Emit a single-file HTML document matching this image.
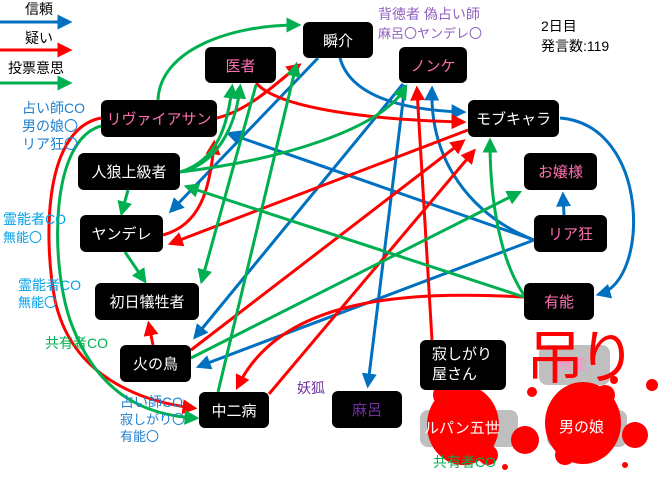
<!DOCTYPE html>
<html><head><meta charset="utf-8"><style>
body{margin:0;width:660px;height:477px;overflow:hidden;background:#fff;font-family:"Liberation Sans","Noto Sans CJK JP",sans-serif}
svg{position:absolute;left:0;top:0}
.t{position:absolute;white-space:nowrap;line-height:1}
</style></head><body>
<svg width="660" height="477" viewBox="0 0 660 477">
<defs>
<marker id="b" markerWidth="5" markerHeight="5" refX="3.5" refY="2.5" orient="auto" markerUnits="strokeWidth"><path d="M0,0L5,2.5L0,5z" fill="#0070c0"/></marker>
<marker id="r" markerWidth="5" markerHeight="5" refX="3.5" refY="2.5" orient="auto" markerUnits="strokeWidth"><path d="M0,0L5,2.5L0,5z" fill="#ff0000"/></marker>
<marker id="g" markerWidth="5" markerHeight="5" refX="3.5" refY="2.5" orient="auto" markerUnits="strokeWidth"><path d="M0,0L5,2.5L0,5z" fill="#00b050"/></marker>
</defs>
<g fill="none" stroke-width="3">
<line x1="0" y1="22" x2="68" y2="22" stroke="#0070c0" marker-end="url(#b)"/>
<line x1="0" y1="50" x2="68" y2="50" stroke="#f00" marker-end="url(#r)"/>
<line x1="0" y1="83" x2="68" y2="83" stroke="#00b050" marker-end="url(#g)"/>
<g stroke="#0070c0" marker-end="url(#b)">
<path d="M340,58 C350,95 400,110 462,112"/>
<path d="M318,58 L172,210"/>
<path d="M534,240 L230,134"/>
<path d="M534,240 L200,366"/>
<path d="M534,240 C470,215 430,160 432,90"/>
<path d="M564,215 L563,196"/>
<path d="M560,118 C650,125 650,280 600,294"/>
<path d="M403,84 L196,336"/>
<path d="M405,85 L368,384"/>
</g>
<g stroke="#f00" marker-end="url(#r)">
<path d="M217,118 C250,110 280,80 298,66"/>
<path d="M256,83 C280,110 380,120 462,122"/>
<path d="M101,118 C40,130 45,250 55,300 C70,370 130,400 193,408"/>
<path d="M163,235 C200,225 210,190 214,144"/>
<path d="M468,130 L172,243"/>
<path d="M191,350 L462,142"/>
<path d="M269,394 L473,152"/>
<path d="M432,340 L417,90"/>
<path d="M524,297 C400,290 280,300 238,386"/>
<path d="M153,345 L149,325"/>
</g>
<g stroke="#00b050" marker-end="url(#g)">
<path d="M158,100 C160,50 230,25 297,25"/>
<path d="M180,172 C220,160 228,120 232,88"/>
<path d="M180,172 C215,165 235,130 240,88"/>
<path d="M180,172 C280,160 380,130 405,88"/>
<path d="M128,190 L122,212"/>
<path d="M125,252 L144,280"/>
<path d="M256,85 L202,280"/>
<path d="M218,392 L296,66"/>
<path d="M524,297 L188,187"/>
<path d="M191,358 L518,193"/>
<path d="M524,295 C500,260 490,200 490,142"/>
<path d="M101,126 C50,140 50,260 70,320 C95,390 140,415 195,418"/>
</g>
</g>
<rect x="539" y="345" width="71" height="40" rx="8" fill="#bfbfbf"/>
<rect x="420" y="410" width="98" height="37" rx="8" fill="#bfbfbf"/>
<rect x="547" y="410" width="80" height="37" rx="8" fill="#bfbfbf"/>
<g fill="#f00">
<ellipse cx="463" cy="425" rx="36" ry="40"/>
<circle cx="445" cy="395" r="12"/><circle cx="488" cy="455" r="10"/>
<circle cx="525" cy="440" r="14"/>
<ellipse cx="583" cy="423" rx="38" ry="41"/>
<circle cx="565" cy="455" r="10"/><circle cx="605" cy="395" r="10"/>
<circle cx="635" cy="435" r="13"/>
<circle cx="652" cy="385" r="6"/><circle cx="532" cy="392" r="5"/><circle cx="505" cy="467" r="3"/><circle cx="625" cy="465" r="3"/><circle cx="614" cy="380" r="4"/>
</g>
</svg>
<style>.n{position:absolute;background:#000;border-radius:6px;color:#fff;font-size:15px;display:flex;align-items:center;justify-content:center}.p{color:#ff6fb0}.pu{color:#7030a0}</style>
<div class="n" style="left:303px;top:22px;width:70px;height:36px">瞬介</div>
<div class="n p" style="left:205px;top:47px;width:71px;height:36px">医者</div>
<div class="n p" style="left:399px;top:47px;width:68px;height:36px">ノンケ</div>
<div class="n p" style="left:101px;top:100px;width:116px;height:37px">リヴァイアサン</div>
<div class="n" style="left:468px;top:100px;width:91px;height:37px">モブキャラ</div>
<div class="n" style="left:78px;top:153px;width:102px;height:37px">人狼上級者</div>
<div class="n p" style="left:524px;top:153px;width:73px;height:37px">お嬢様</div>
<div class="n" style="left:80px;top:215px;width:83px;height:37px">ヤンデレ</div>
<div class="n p" style="left:534px;top:215px;width:73px;height:37px">リア狂</div>
<div class="n" style="left:95px;top:283px;width:104px;height:37px">初日犠牲者</div>
<div class="n p" style="left:524px;top:283px;width:70px;height:37px">有能</div>
<div class="n" style="left:120px;top:345px;width:71px;height:37px">火の鳥</div>
<div class="n" style="left:420px;top:340px;width:86px;height:50px;line-height:20px;justify-content:flex-start;padding-left:12px;box-sizing:border-box">寂しがり<br>屋さん</div>
<div class="n" style="left:199px;top:392px;width:70px;height:36px">中二病</div>
<div class="n pu" style="left:332px;top:391px;width:70px;height:37px">麻呂</div>
<div class="t" style="left:424px;top:421px;color:#fff;font-size:15px">ルパン五世</div>
<div class="t" style="left:559px;top:420px;color:#fff;font-size:15px">男の娘</div>
<div class="t" style="left:557px;top:357px;color:#ff8fc8;font-size:15px">無能</div>
<div class="t" style="left:526px;top:330px;color:#f00;font-size:58px;letter-spacing:-6px">吊り</div>
<div class="t" style="left:25px;top:2px;font-size:14px">信頼</div>
<div class="t" style="left:25px;top:31px;font-size:14px">疑い</div>
<div class="t" style="left:8px;top:61px;font-size:14px">投票意思</div>
<div class="t" style="left:22px;top:99px;font-size:14px;color:#2080d0;line-height:18px">占い師CO<br>男の娘〇<br>リア狂〇</div>
<div class="t" style="left:3px;top:210px;font-size:14px;color:#00a0e8;line-height:18px">霊能者CO<br><span style="font-size:13px">無能〇</span></div>
<div class="t" style="left:18px;top:277px;font-size:14px;color:#00a0e8;line-height:17px">霊能者CO<br><span style="font-size:13px">無能〇</span></div>
<div class="t" style="left:45px;top:336px;font-size:14px;color:#00b050">共有者CO</div>
<div class="t" style="left:120px;top:394px;font-size:14px;color:#2080d0;line-height:17px">占い師CO<br><span style="font-size:13px">寂しがり〇<br>有能〇</span></div>
<div class="t" style="left:297px;top:381px;font-size:14px;color:#7030a0">妖狐</div>
<div class="t" style="left:378px;top:5px;font-size:14px;color:#9060c0;line-height:19px">背徳者 偽占い師<br><span style="font-size:13px">麻呂〇ヤンデレ〇</span></div>
<div class="t" style="left:541px;top:16px;font-size:14px;line-height:20px">2日目<br>発言数:119</div>
<div class="t" style="left:433px;top:455px;font-size:14px;color:#00b050">共有者CO</div>
</body></html>
